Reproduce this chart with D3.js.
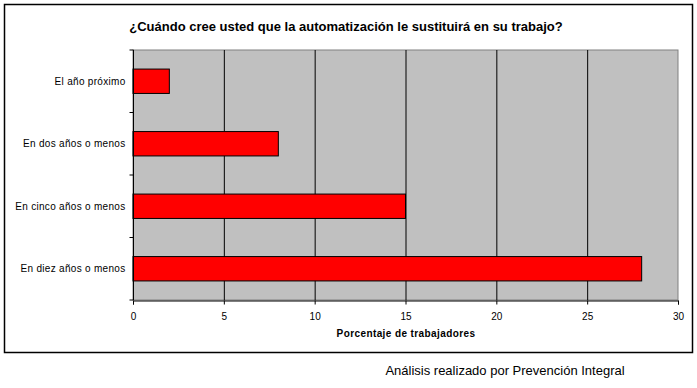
<!DOCTYPE html>
<html>
<head>
<meta charset="utf-8">
<script src="https://cdn.jsdelivr.net/npm/d3@7"></script>
<style>
  body { margin: 0; background: #fff; }
  text { font-family: Arial, "Liberation Sans", sans-serif; }
</style>
</head>
<body>
<svg id="chart" width="697" height="388"></svg>
<script>
// data
var categories = ["El año próximo", "En dos años o menos", "En cinco años o menos", "En diez años o menos"]
var values = [2, 8, 15, 28]
var xTicks = [0, 5, 10, 15, 20, 25, 30]

var svg = d3.select("#chart")

// outer frame
svg.append("rect")
  .attr("x", 4.5).attr("y", 4.5)
  .attr("width", 688).attr("height", 348)
  .attr("fill", "#fff").attr("stroke", "#000").attr("stroke-width", 1.5)

var plotL = 133, plotR = 678, plotT = 50, plotB = 300

var x = d3.scaleLinear().domain([0, 30]).range([plotL, plotR])
var y = d3.scaleBand().domain(categories).range([plotT, plotB])
  .paddingInner(0.61).paddingOuter(0.305)

// plot area
svg.append("rect")
  .attr("x", plotL).attr("y", plotT)
  .attr("width", plotR - plotL).attr("height", plotB - plotT)
  .attr("fill", "#c0c0c0").attr("stroke", "#808080")

// vertical gridlines
svg.selectAll(".grid")
  .data(xTicks.filter(function(d){ return d > 0 && d < 30 }))
  .enter().append("line")
  .attr("x1", function(d){ return x(d) + 0.5 }).attr("x2", function(d){ return x(d) + 0.5 })
  .attr("y1", plotT).attr("y2", plotB)
  .attr("stroke", "#000")

// bars
svg.selectAll(".bar")
  .data(values)
  .enter().append("rect")
  .attr("x", x(0))
  .attr("y", function(d, i){ return y(categories[i]) })
  .attr("width", function(d){ return x(d) - x(0) })
  .attr("height", y.bandwidth())
  .attr("fill", "#ff0000")
  .attr("stroke", "#000")

// x axis
var xAxis = svg.append("g")
  .attr("transform", "translate(0," + (plotB + 0.5) + ")")
  .call(d3.axisBottom(x).tickValues(xTicks).tickSize(4).tickPadding(8))
xAxis.select(".domain").attr("stroke", "#000")
xAxis.selectAll("text").style("font-size", "10px").attr("fill", "#000")

// y axis: ticks between categories
var yAxis = svg.append("g")
  .attr("transform", "translate(" + (plotL + 0.5) + ",0)")
yAxis.append("line")
  .attr("x1", 0).attr("x2", 0).attr("y1", plotT).attr("y2", plotB)
  .attr("stroke", "#000")
var bounds = d3.range(categories.length + 1).map(function(i){ return plotT + i * y.step() })
yAxis.selectAll(".tk")
  .data(bounds)
  .enter().append("line")
  .attr("x1", -4).attr("x2", 0)
  .attr("y1", function(d){ return d }).attr("y2", function(d){ return d })
  .attr("stroke", "#000")
yAxis.selectAll(".lbl")
  .data(categories)
  .enter().append("text")
  .attr("x", -8)
  .attr("y", function(d){ return y(d) + y.bandwidth() / 2 })
  .attr("dy", "0.35em")
  .attr("text-anchor", "end")
  .style("font-size", "10px")
  .style("letter-spacing", "0.3px")
  .text(function(d){ return d })

// title
svg.append("text")
  .attr("x", 346).attr("y", 31)
  .attr("text-anchor", "middle")
  .style("font-size", "13px").style("font-weight", "bold")
  .text("¿Cuándo cree usted que la automatización le sustituirá en su trabajo?")

// x axis title
svg.append("text")
  .attr("x", 406).attr("y", 337)
  .attr("text-anchor", "middle")
  .style("font-size", "10px").style("font-weight", "bold")
  .style("letter-spacing", "0.4px")
  .text("Porcentaje de trabajadores")

// credit
svg.append("text")
  .attr("x", 505).attr("y", 375)
  .attr("text-anchor", "middle")
  .style("font-size", "13px")
  .text("Análisis realizado por Prevención Integral")
</script>
</body>
</html>
